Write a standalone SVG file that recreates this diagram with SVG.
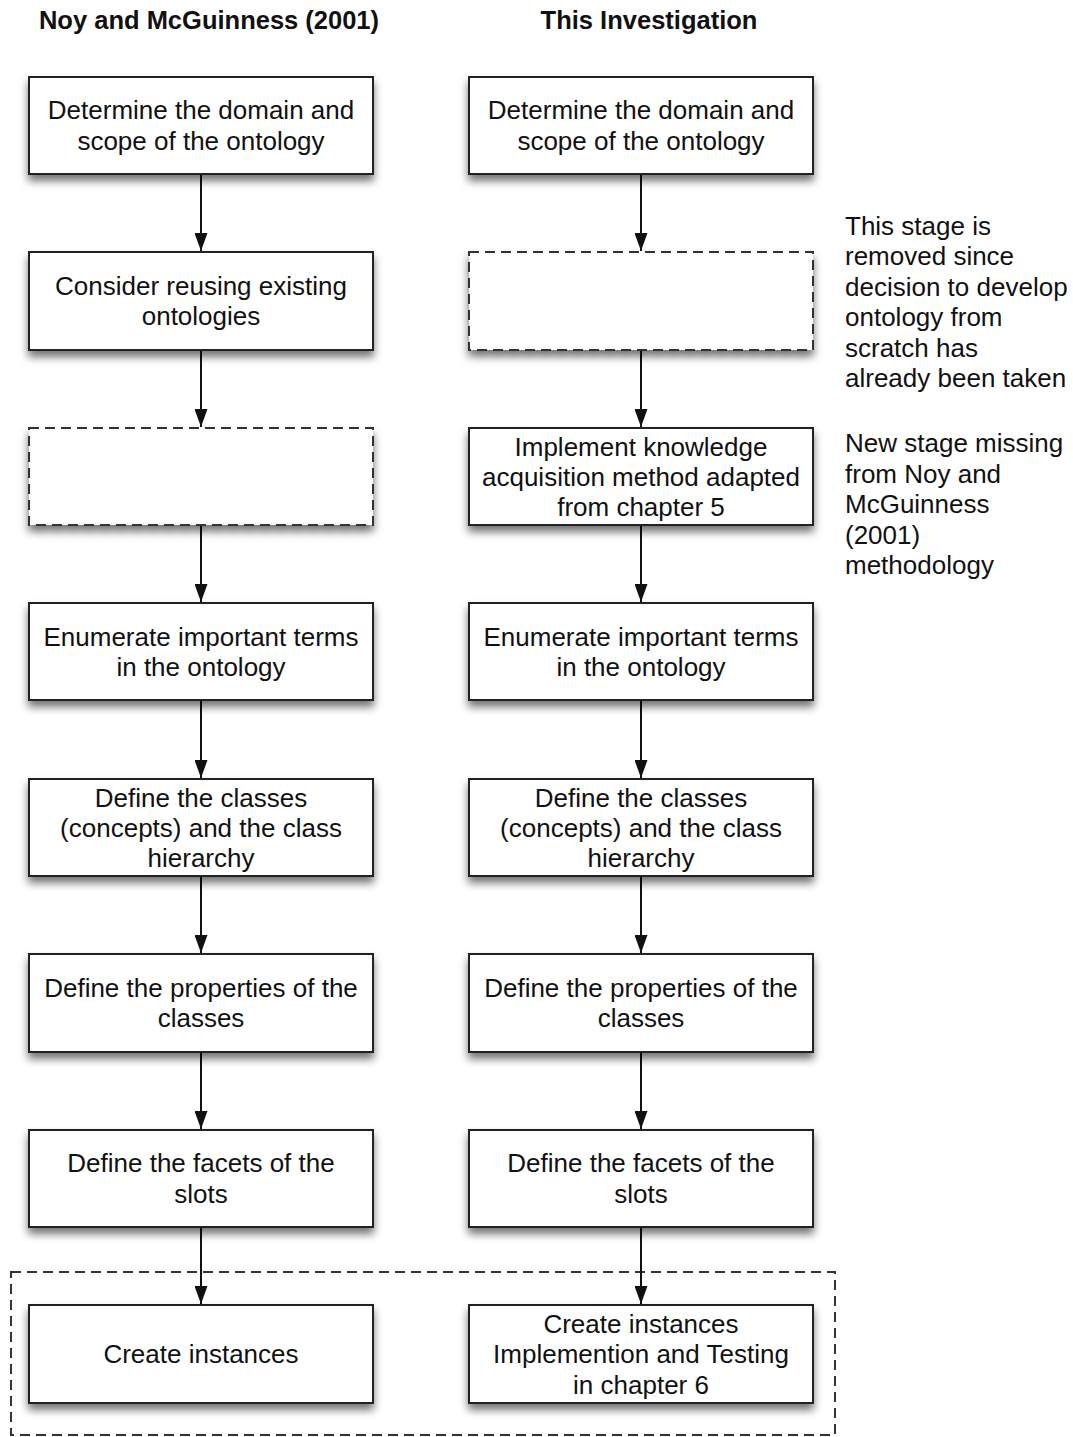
<svg xmlns="http://www.w3.org/2000/svg" width="1073" height="1437" viewBox="0 0 1073 1437">
<style>
text{font-family:"Liberation Sans",Arial,sans-serif;fill:#111;}
.t{font-size:26px;text-anchor:middle;}
.h{font-size:25.5px;font-weight:bold;text-anchor:middle;}
.n{font-size:26px;}
.box{fill:#fff;stroke:#222;stroke-width:2;filter:url(#sh);}
.dbox{fill:#fff;stroke:#333;stroke-width:2;stroke-dasharray:10 6;filter:url(#sh);}
.c{stroke:#111;stroke-width:2;fill:none;marker-end:url(#ah);}
</style>
<defs>
<filter id="sh" x="-10%" y="-10%" width="120%" height="150%">
<feDropShadow dx="0" dy="6" stdDeviation="4.5" flood-color="#000" flood-opacity="0.55"/>
</filter>
<marker id="ah" markerWidth="18" markerHeight="13" refX="18" refY="6.5" orient="auto" markerUnits="userSpaceOnUse" viewBox="0 0 18 13">
<path d="M0,0 L18,6.5 L0,13 z" fill="#111"/>
</marker>
</defs>
<rect width="1073" height="1437" fill="#fff"/>
<text class="h" x="209" y="29">Noy and McGuinness (2001)</text>
<text class="h" x="649" y="29">This Investigation</text>
<rect x="11" y="1272" width="824" height="163" fill="none" stroke="#333" stroke-width="2" stroke-dasharray="10 6"/>
<g id="connectors">
<line class="c" x1="201" y1="175" x2="201" y2="251"/>
<line class="c" x1="201" y1="351" x2="201" y2="427"/>
<line class="c" x1="201" y1="526" x2="201" y2="602"/>
<line class="c" x1="201" y1="701" x2="201" y2="778"/>
<line class="c" x1="201" y1="877" x2="201" y2="953"/>
<line class="c" x1="201" y1="1053" x2="201" y2="1129"/>
<line class="c" x1="201" y1="1228" x2="201" y2="1304"/>
<line class="c" x1="641" y1="175" x2="641" y2="251"/>
<line class="c" x1="641" y1="351" x2="641" y2="427"/>
<line class="c" x1="641" y1="526" x2="641" y2="602"/>
<line class="c" x1="641" y1="701" x2="641" y2="778"/>
<line class="c" x1="641" y1="877" x2="641" y2="953"/>
<line class="c" x1="641" y1="1053" x2="641" y2="1129"/>
<line class="c" x1="641" y1="1228" x2="641" y2="1304"/>
</g>
<g id="L1"><rect class="box" x="29" y="77" width="344" height="97"/><text class="t" x="201" y="119">Determine the domain and</text><text class="t" x="201" y="150">scope of the ontology</text></g>
<g id="L2"><rect class="box" x="29" y="252" width="344" height="98"/><text class="t" x="201" y="295">Consider reusing existing</text><text class="t" x="201" y="325">ontologies</text></g>
<g id="L3"><rect class="dbox" x="29" y="428" width="344" height="97"/></g>
<g id="L4"><rect class="box" x="29" y="603" width="344" height="97"/><text class="t" x="201" y="646">Enumerate important terms</text><text class="t" x="201" y="676">in the ontology</text></g>
<g id="L5"><rect class="box" x="29" y="779" width="344" height="97"/><text class="t" x="201" y="807">Define the classes</text><text class="t" x="201" y="837">(concepts) and the class</text><text class="t" x="201" y="867">hierarchy</text></g>
<g id="L6"><rect class="box" x="29" y="954" width="344" height="98"/><text class="t" x="201" y="997">Define the properties of the</text><text class="t" x="201" y="1027">classes</text></g>
<g id="L7"><rect class="box" x="29" y="1130" width="344" height="97"/><text class="t" x="201" y="1172">Define the facets of the</text><text class="t" x="201" y="1203">slots</text></g>
<g id="L8"><rect class="box" x="29" y="1305" width="344" height="98"/><text class="t" x="201" y="1363">Create instances</text></g>
<g id="R1"><rect class="box" x="469" y="77" width="344" height="97"/><text class="t" x="641" y="119">Determine the domain and</text><text class="t" x="641" y="150">scope of the ontology</text></g>
<g id="R2"><rect class="dbox" x="469" y="252" width="344" height="98"/></g>
<g id="R3"><rect class="box" x="469" y="428" width="344" height="97"/><text class="t" x="641" y="456">Implement knowledge</text><text class="t" x="641" y="486">acquisition method adapted</text><text class="t" x="641" y="516">from chapter 5</text></g>
<g id="R4"><rect class="box" x="469" y="603" width="344" height="97"/><text class="t" x="641" y="646">Enumerate important terms</text><text class="t" x="641" y="676">in the ontology</text></g>
<g id="R5"><rect class="box" x="469" y="779" width="344" height="97"/><text class="t" x="641" y="807">Define the classes</text><text class="t" x="641" y="837">(concepts) and the class</text><text class="t" x="641" y="867">hierarchy</text></g>
<g id="R6"><rect class="box" x="469" y="954" width="344" height="98"/><text class="t" x="641" y="997">Define the properties of the</text><text class="t" x="641" y="1027">classes</text></g>
<g id="R7"><rect class="box" x="469" y="1130" width="344" height="97"/><text class="t" x="641" y="1172">Define the facets of the</text><text class="t" x="641" y="1203">slots</text></g>
<g id="R8"><rect class="box" x="469" y="1305" width="344" height="98"/><text class="t" x="641" y="1333">Create instances</text><text class="t" x="641" y="1363">Implemention and Testing</text><text class="t" x="641" y="1394">in chapter 6</text></g>
<g id="note1"><text class="n" x="845" y="235">This stage is</text><text class="n" x="845" y="265">removed since</text><text class="n" x="845" y="296">decision to develop</text><text class="n" x="845" y="326">ontology from</text><text class="n" x="845" y="357">scratch has</text><text class="n" x="845" y="387">already been taken</text></g>
<g id="note2"><text class="n" x="845" y="452">New stage missing</text><text class="n" x="845" y="483">from Noy and</text><text class="n" x="845" y="513">McGuinness</text><text class="n" x="845" y="544">(2001)</text><text class="n" x="845" y="574">methodology</text></g>
</svg>
